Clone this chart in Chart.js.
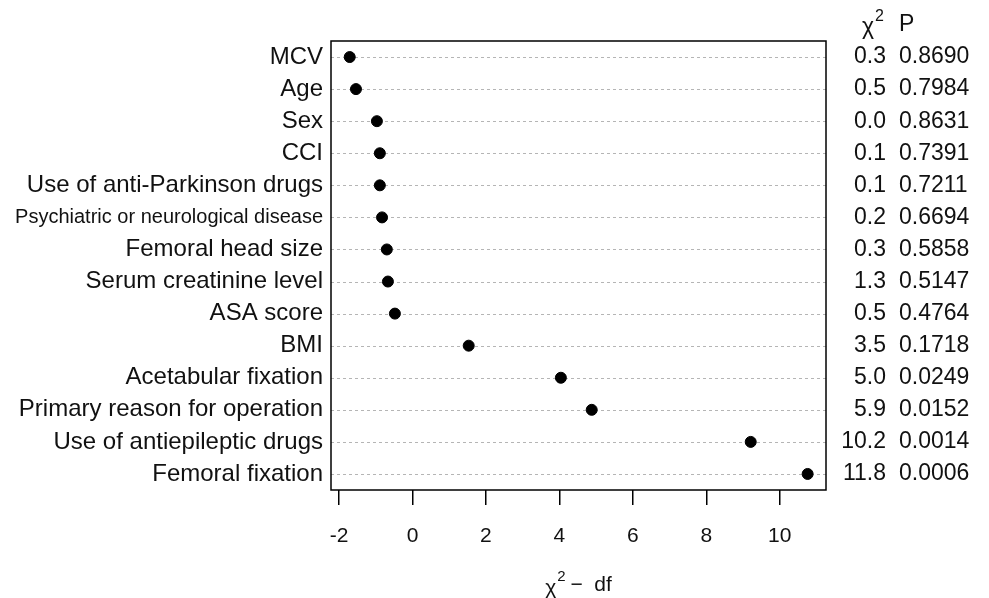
<!DOCTYPE html>
<html lang="en">
<head>
  <meta charset="UTF-8">
  <title>Chi-square minus df dot plot</title>
  <script src="https://cdn.jsdelivr.net/npm/chart.js"></script>
  <style>
    body { margin: 0; background: #fff; overflow: hidden; }
    #myChart { display: block; }
  </style>
</head>
<body>
  <canvas id="myChart" width="989" height="598"></canvas>

  <script>
    // variables, top to bottom
    const categories = [
      'MCV', 'Age', 'Sex', 'CCI', 'Use of anti-Parkinson drugs',
      'Psychiatric or neurological disease', 'Femoral head size',
      'Serum creatinine level', 'ASA score', 'BMI', 'Acetabular fixation',
      'Primary reason for operation', 'Use of antiepileptic drugs', 'Femoral fixation'
    ];
    // chi2 - df (dot positions)
    const chiMinusDf = [-1.71, -1.54, -0.97, -0.89, -0.89, -0.83, -0.70, -0.67, -0.48, 1.53, 4.04, 4.88, 9.21, 10.76];
    // right hand columns
    const chi2Labels = ['0.3', '0.5', '0.0', '0.1', '0.1', '0.2', '0.3', '1.3', '0.5', '3.5', '5.0', '5.9', '10.2', '11.8'];
    const pLabels = ['0.8690', '0.7984', '0.8631', '0.7391', '0.7211', '0.6694', '0.5858', '0.5147', '0.4764', '0.1718', '0.0249', '0.0152', '0.0014', '0.0006'];
    const xTicks = [-2, 0, 2, 4, 6, 8, 10];

    const FONT = "'Liberation Sans', Arial, Helvetica, sans-serif";
    const TEXT = '#111';

    // draws "χ²" + rest
    function drawChi(ctx, x, y, size, rest, align) {
      ctx.save();
      ctx.textBaseline = 'middle';
      ctx.font = size + 'px ' + FONT;
      const wChi = ctx.measureText('χ').width;
      ctx.font = Math.round(size * 0.7) + 'px ' + FONT;
      const wSup = ctx.measureText('2').width;
      ctx.font = size + 'px ' + FONT;
      const wRest = ctx.measureText(rest).width;
      const total = wChi + wSup + wRest;
      let start = align === 'center' ? x - total / 2 : (align === 'right' ? x - total : x);
      ctx.textAlign = 'left';
      ctx.fillStyle = TEXT;
      ctx.fillText('χ', start, y + 3);
      ctx.font = Math.round(size * 0.7) + 'px ' + FONT;
      ctx.fillText('2', start + wChi + 1, y - 8);
      ctx.font = size + 'px ' + FONT;
      ctx.fillText(rest, start + wChi + wSup, y);
      ctx.restore();
    }

    const dotPlotExtras = {
      id: 'dotPlotExtras',
      beforeDatasetsDraw(chart) {
        // dotted guide lines for each row
        const ctx = chart.ctx;
        const area = chart.chartArea;
        const yScale = chart.scales.y;
        ctx.save();
        ctx.strokeStyle = '#b5b5b5';
        ctx.lineWidth = 1;
        ctx.setLineDash([3, 3]);
        categories.forEach((c, i) => {
          const y = Math.round(yScale.getPixelForValue(i)) + 0.5;
          ctx.beginPath();
          ctx.moveTo(area.left, y);
          ctx.lineTo(area.right, y);
          ctx.stroke();
        });
        ctx.restore();
      },
      afterDraw(chart) {
        const ctx = chart.ctx;
        const area = chart.chartArea;
        const yScale = chart.scales.y;

        // box
        ctx.save();
        ctx.strokeStyle = '#000';
        ctx.lineWidth = 1.5;
        ctx.strokeRect(area.left, area.top, area.right - area.left, area.bottom - area.top);

        // right columns
        ctx.font = '23px ' + FONT;
        ctx.fillStyle = TEXT;
        ctx.textBaseline = 'middle';
        categories.forEach((c, i) => {
          const y = yScale.getPixelForValue(i);
          ctx.textAlign = 'right';
          ctx.fillText(chi2Labels[i], 886, y);
          ctx.textAlign = 'left';
          ctx.fillText(pLabels[i], 899, y);
        });
        ctx.restore();

        // header + axis title
        drawChi(ctx, 862, 25, 23, '', 'left');
        ctx.save();
        ctx.font = '23px ' + FONT;
        ctx.fillStyle = TEXT;
        ctx.textBaseline = 'middle';
        ctx.textAlign = 'left';
        ctx.fillText('P', 899, 25);
        ctx.restore();
        drawChi(ctx, (area.left + area.right) / 2, 585, 21, ' \u2212  df', 'center');
      }
    };

    const ctx = document.getElementById('myChart').getContext('2d');
    new Chart(ctx, {
      type: 'scatter',
      data: {
        datasets: [{
          data: chiMinusDf.map((v, i) => ({ x: v, y: i })),
          backgroundColor: '#000',
          borderColor: '#000',
          pointRadius: 5.5,
          pointHoverRadius: 5.5
        }]
      },
      options: {
        responsive: false,
        animation: false,
        devicePixelRatio: 1,
        layout: { padding: { top: 41, right: 163, left: 0, bottom: 0 } },
        plugins: { legend: { display: false }, tooltip: { enabled: false } },
        scales: {
          x: {
            type: 'linear',
            min: -2.22,
            max: 11.26,
            afterFit(scale) { scale.height = 108; },
            afterBuildTicks(scale) { scale.ticks = xTicks.map(v => ({ value: v })); },
            border: { display: false },
            grid: { drawOnChartArea: false, drawTicks: true, tickLength: 15, color: '#000', lineWidth: 1.5 },
            ticks: {
              padding: 19,
              color: TEXT,
              font: { family: FONT, size: 21 }
            }
          },
          y: {
            type: 'linear',
            min: -0.5,
            max: categories.length - 0.5,
            reverse: true,
            afterFit(scale) { scale.width = 331; },
            afterBuildTicks(scale) { scale.ticks = categories.map((c, i) => ({ value: i })); },
            border: { display: false },
            grid: { display: false },
            ticks: {
              autoSkip: false,
              padding: 0,
              color: TEXT,
              callback: (v) => categories[v],
              font: (c) => ({ family: FONT, size: c.index === 5 ? 20 : 24 })
            }
          }
        }
      },
      plugins: [dotPlotExtras]
    });
  </script>
</body>
</html>
